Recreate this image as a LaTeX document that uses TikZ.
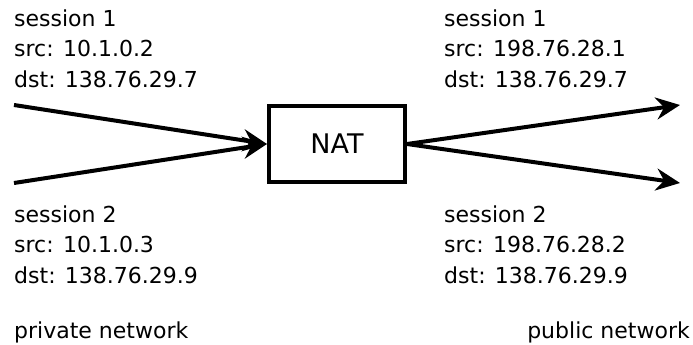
\documentclass[tikz,border=0pt]{standalone}
\usepackage{fontspec}
\setmainfont{DejaVu Sans}
\usetikzlibrary{arrows.meta}
\begin{document}
\begin{tikzpicture}[x=1pt,y=-1pt,
  label text/.style={anchor=base west,inner sep=0pt,align=left,
    font=\fontsize{22}{30.5}\selectfont},
  natbox/.style={draw,line width=4pt,minimum width=136pt,minimum height=76pt,
    inner sep=0pt,font=\fontsize{27}{30}\selectfont},
  flow/.style={line width=4pt,-{Stealth[length=24pt,width=22pt,inset=8pt]}}]
\useasboundingbox (0,0) rectangle (693,345);

% the translator in the middle
\node[natbox] (nat) at (337,144) {NAT};

% free ends of the four connections
\coordinate (in1) at (14,105);
\coordinate (in2) at (14,183);
\coordinate (out1) at (680,105);
\coordinate (out2) at (680,183);

\draw[flow] (in1) -- (nat.west);
\draw[flow] (in2) -- (nat.west);
\draw[flow] (nat.east) -- (out1);
\draw[flow] (nat.east) -- (out2);

% session headers on the private side (anchored at the last line's baseline)
\node[label text] (priv1) at (14,87) {session 1\\src: 10.1.0.2\\dst: 138.76.29.7};
\node[label text] (priv2) at (14,283) {session 2\\src: 10.1.0.3\\dst: 138.76.29.9};

% session headers on the public side
\node[label text] (pub1) at (444,87) {session 1\\src: 198.76.28.1\\dst: 138.76.29.7};
\node[label text] (pub2) at (444,283) {session 2\\src: 198.76.28.2\\dst: 138.76.29.9};

% network names
\node[label text] (privnet) at (14,338) {private network};
\node[label text,anchor=base east] (pubnet) at (690,338) {public network};
\end{tikzpicture}
\end{document}
